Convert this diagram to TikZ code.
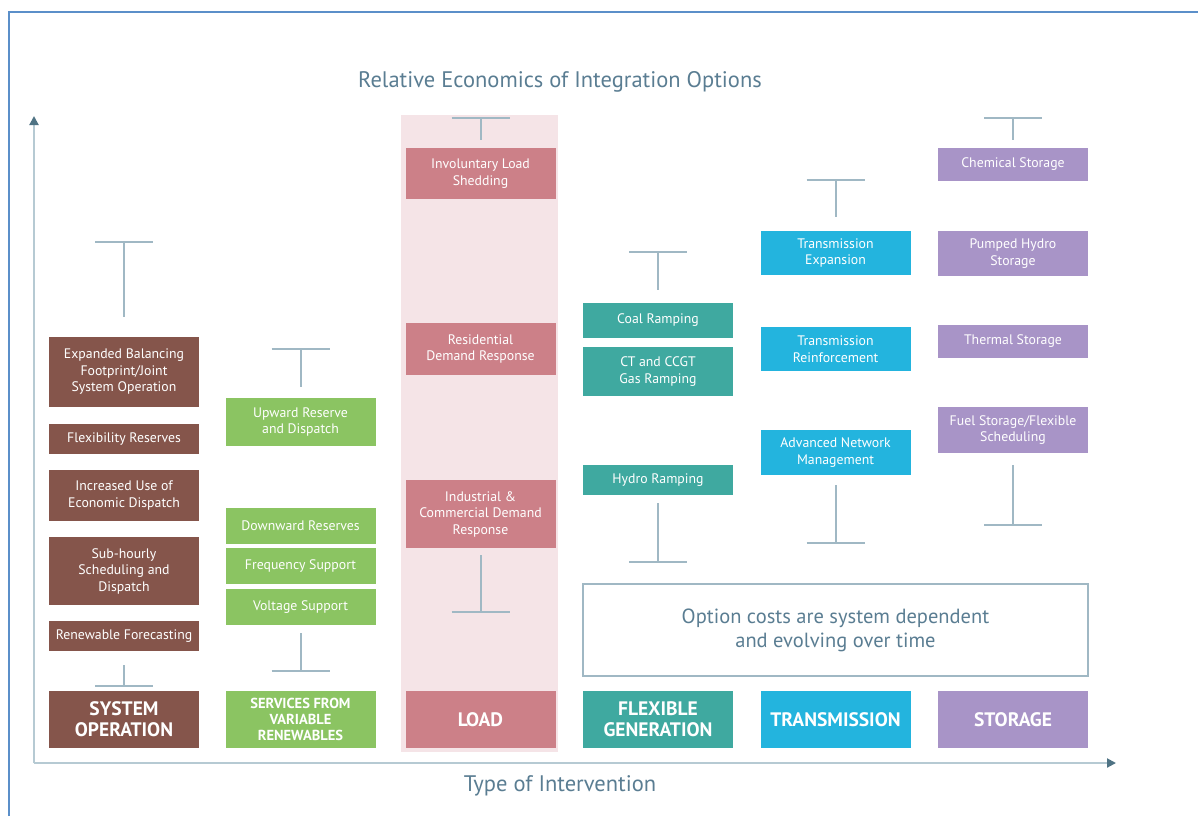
\documentclass[tikz,border=0pt]{standalone}
\usepackage{fontspec}
\setmainfont{PT Sans}
\usetikzlibrary{arrows.meta}
\definecolor{frame}{RGB}{91, 143, 201}
\definecolor{axis}{RGB}{182, 202, 211}
\definecolor{axistip}{RGB}{79, 115, 132}
\definecolor{whisk}{RGB}{160, 184, 196}
\definecolor{caption}{RGB}{90, 125, 146}
\definecolor{sysop}{RGB}{133, 85, 75}
\definecolor{vre}{RGB}{139, 196, 98}
\definecolor{load}{RGB}{204, 128, 136}
\definecolor{loadband}{RGB}{245, 228, 231}
\definecolor{flexgen}{RGB}{63, 169, 160}
\definecolor{trans}{RGB}{35, 180, 222}
\definecolor{storage}{RGB}{168, 148, 199}
\newcommand{\rangebar}[3]{
    % #1 = x position
    % #2 = y of the bar
    % #3 = y of the free end
    \draw[whisk, line width=2pt] (#1-29,#2) -- (#1+29,#2);
    \draw[whisk, line width=2pt] (#1,#2) -- (#1,#3);
}

\begin{document}
\begin{tikzpicture}[x=1pt, y=-1pt,
    opt/.style={rectangle, fill=#1, text=white, inner sep=0pt, minimum width=150pt,
        align=center, font=\fontsize{13.8}{16.5}\selectfont},
    head/.style={opt=#1, minimum height=57pt, font=\bfseries\fontsize{19.5}{21}\selectfont}]

    \useasboundingbox (0,0) rectangle (1198,816);
    \draw[frame, line width=2pt] (9,816) -- (9,12) -- (1198,12);

    \node[caption, font=\fontsize{22.5}{26}\selectfont] (title) at (560,82) {Relative Economics of Integration Options};
    \node[caption, font=\fontsize{22.5}{26}\selectfont] (xlabel) at (560,786) {Type of Intervention};

    \fill[loadband] (401,115) rectangle (558,752);

    \draw[axis, line width=2pt, -{Triangle[length=9pt, width=9pt, color=axistip]}] (34,763) -- (34,116);
    \draw[axis, line width=2pt, -{Triangle[length=9pt, width=9pt, color=axistip]}] (34,763) -- (1116,763);

    % system operation
    \node[opt=sysop, minimum height=70pt] (expbal) at (124,372) {Expanded Balancing\\Footprint/Joint\\System Operation};
    \node[opt=sysop, minimum height=30pt] (flexres) at (124,439) {Flexibility Reserves};
    \node[opt=sysop, minimum height=51pt] (econdisp) at (124,495.5) {Increased Use of\\Economic Dispatch};
    \node[opt=sysop, minimum height=68pt] (subhourly) at (124,571) {Sub-hourly\\Scheduling and\\Dispatch};
    \node[opt=sysop, minimum height=30pt] (forecast) at (124,636) {Renewable Forecasting};
    \node[head=sysop] (sysophead) at (124,719.5) {SYSTEM\\OPERATION};
    \rangebar{124}{242}{317}
    \rangebar{124}{686}{665}

    % services from variable renewables
    \node[opt=vre, minimum height=48pt] (upward) at (300.5,422) {Upward Reserve\\and Dispatch};
    \node[opt=vre, minimum height=36pt] (downward) at (300.5,526) {Downward Reserves};
    \node[opt=vre, minimum height=36pt] (freq) at (300.5,566) {Frequency Support};
    \node[opt=vre, minimum height=36pt] (voltage) at (300.5,607) {Voltage Support};
    \node[head=vre, font=\bfseries\fontsize{14.5}{16}\selectfont] (vrehead) at (300.5,719.5) {SERVICES FROM\\VARIABLE\\RENEWABLES};
    \rangebar{300.5}{349}{387}
    \rangebar{300.5}{671}{633}

    % load
    \node[opt=load, minimum height=51pt] (shedding) at (480.5,173.5) {Involuntary Load\\Shedding};
    \node[opt=load, minimum height=52pt] (residential) at (480.5,349) {Residential\\Demand Response};
    \node[opt=load, minimum height=68pt] (industrial) at (480.5,514) {Industrial \&\\Commercial Demand\\Response};
    \node[head=load] (loadhead) at (480.5,719.5) {LOAD};
    \rangebar{480.5}{118}{140}
    \rangebar{480.5}{612}{555}

    % flexible generation
    \node[opt=flexgen, minimum height=35pt] (coal) at (658,320.5) {Coal Ramping};
    \node[opt=flexgen, minimum height=49pt] (gasramp) at (658,371.5) {CT and CCGT\\Gas Ramping};
    \node[opt=flexgen, minimum height=30pt] (hydro) at (658,480) {Hydro Ramping};
    \node[head=flexgen] (flexhead) at (658,719.5) {FLEXIBLE\\GENERATION};
    \rangebar{658}{252}{290}
    \rangebar{658}{562}{503}

    % transmission
    \node[opt=trans, minimum height=44pt] (txexp) at (835.5,253) {Transmission\\Expansion};
    \node[opt=trans, minimum height=44pt] (txreinf) at (835.5,349) {Transmission\\Reinforcement};
    \node[opt=trans, minimum height=45pt] (netmgmt) at (835.5,452.5) {Advanced Network\\Management};
    \node[head=trans] (transhead) at (835.5,719.5) {TRANSMISSION};
    \rangebar{835.5}{180}{217}
    \rangebar{835.5}{543}{485}

    % storage
    \node[opt=storage, minimum height=33pt] (chemical) at (1013,164.5) {Chemical Storage};
    \node[opt=storage, minimum height=45pt] (pumped) at (1013,253.5) {Pumped Hydro\\Storage};
    \node[opt=storage, minimum height=33pt] (thermal) at (1013,341.5) {Thermal Storage};
    \node[opt=storage, minimum height=46pt] (fuel) at (1013,430) {Fuel Storage/Flexible\\Scheduling};
    \node[head=storage] (storehead) at (1013,719.5) {STORAGE};
    \rangebar{1013}{118}{140}
    \rangebar{1013}{525}{465}

    \node[draw=whisk, line width=1.5pt, minimum width=505pt, minimum height=92pt, align=center,
        text=caption, font=\fontsize{20.5}{24}\selectfont] (note) at (835.5,630)
        {Option costs are system dependent\\and evolving over time};

\end{tikzpicture}
\end{document}
